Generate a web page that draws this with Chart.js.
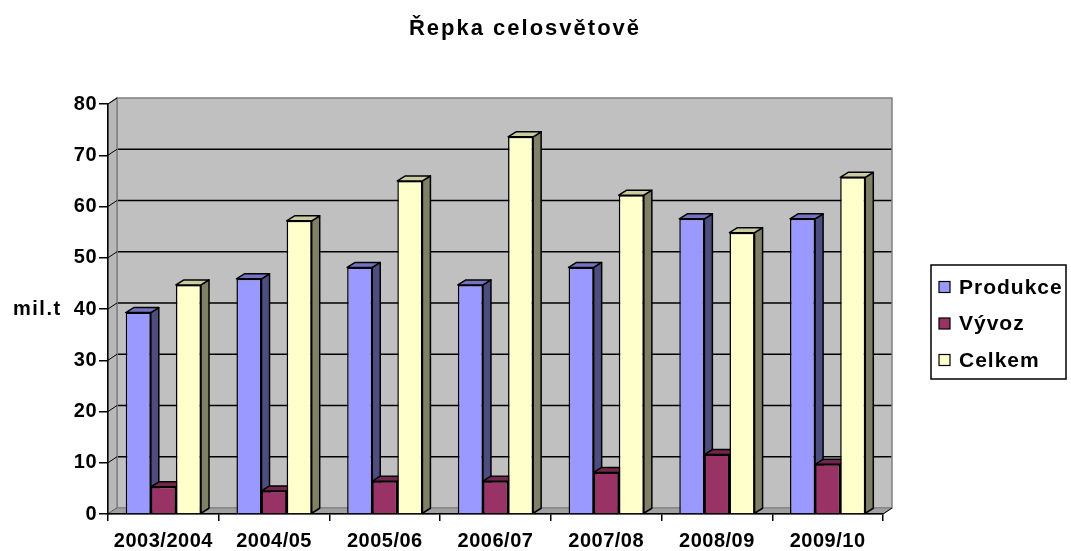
<!DOCTYPE html>
<html lang="cs">
<head>
<meta charset="utf-8">
<title>Řepka celosvětově</title>
<script src="https://cdn.jsdelivr.net/npm/chart.js@4.4.1/dist/chart.umd.min.js"></script>
<style>
  html, body { margin: 0; padding: 0; background: #fff; }
  canvas { display: block; }
</style>
</head>
<body>
<canvas id="graf" width="1071" height="551"></canvas>
<script>
// ================== DATA ==================
const nadpis = "Řepka celosvětově";
const jednotka = "mil.t";
const roky = ["2003/2004", "2004/05", "2005/06", "2006/07", "2007/08", "2008/09", "2009/10"];
const produkce = [39.3, 45.9, 48.1, 44.7, 48.1, 57.6, 57.6];
const vyvoz = [5.3, 4.5, 6.4, 6.4, 8.1, 11.6, 9.7];
const celkem = [44.7, 57.2, 65.0, 73.6, 62.2, 54.9, 65.7];
const osaY = [0, 10, 20, 30, 40, 50, 60, 70, 80];

// barvy: čelo, bok, vršek
const barvy = {
  produkce: ["#9999FF", "#4D4D80", "#7373BF"],
  vyvoz: ["#993366", "#4D1A33", "#73264D"],
  celkem: ["#FFFFCC", "#808066", "#CCCCA3"],
};

const hloubka = { dx: 8, dy: 5 };   // hloubka sloupců
const stena = { dx: 9, dy: 6 };     // hloubka stěn grafu
const pismo = "'Liberation Sans', Arial, sans-serif";

// ================== 3D STĚNY A SLOUPCE ==================
const prostor = {
  id: "prostor",
  beforeLayout(chart) {
    chart.ctx.letterSpacing = "0.5px";
  },
  beforeDraw(chart) {
    const ctx = chart.ctx;
    ctx.letterSpacing = "0.5px";
    const { left, right, top, bottom } = chart.chartArea;
    const y = chart.scales.y;
    ctx.save();
    // zadní stěna
    ctx.fillStyle = "#C0C0C0";
    ctx.fillRect(left + stena.dx, top - stena.dy, right - left, bottom - top);
    // mřížka na zadní stěně
    ctx.strokeStyle = "#000";
    ctx.lineWidth = 1.5;
    osaY.slice(1, -1).forEach((v) => {
      const py = y.getPixelForValue(v) - stena.dy;
      ctx.beginPath();
      ctx.moveTo(left + stena.dx, py);
      ctx.lineTo(right + stena.dx, py);
      ctx.stroke();
    });
    ctx.strokeStyle = "#808080";
    ctx.strokeRect(left + stena.dx, top - stena.dy, right - left, bottom - top);
    // boční stěna
    ctx.fillStyle = "#B8B8B8";
    ctx.beginPath();
    ctx.moveTo(left, top);
    ctx.lineTo(left + stena.dx, top - stena.dy);
    ctx.lineTo(left + stena.dx, bottom - stena.dy);
    ctx.lineTo(left, bottom);
    ctx.closePath();
    ctx.fill();
    ctx.stroke();
    // šikmé čárky z osy na stěnu
    ctx.strokeStyle = "#000";
    ctx.lineWidth = 1;
    osaY.forEach((v) => {
      const py = y.getPixelForValue(v);
      ctx.beginPath();
      ctx.moveTo(left, py);
      ctx.lineTo(left + stena.dx, py - stena.dy);
      ctx.stroke();
    });
    // podlaha
    ctx.fillStyle = "#A0A0A0";
    ctx.strokeStyle = "#808080";
    ctx.beginPath();
    ctx.moveTo(left, bottom);
    ctx.lineTo(left + stena.dx, bottom - stena.dy);
    ctx.lineTo(right + stena.dx, bottom - stena.dy);
    ctx.lineTo(right, bottom);
    ctx.closePath();
    ctx.fill();
    ctx.stroke();
    ctx.strokeStyle = "#000";
    ctx.beginPath();
    ctx.moveTo(right, bottom);
    ctx.lineTo(right + stena.dx, bottom - stena.dy);
    ctx.stroke();
    ctx.restore();
  },
  beforeDatasetsDraw(chart) {
    const ctx = chart.ctx;
    const { dx, dy } = hloubka;
    ctx.save();
    ctx.strokeStyle = "#000";
    ctx.lineWidth = 1.5;
    ctx.lineJoin = "round";
    for (let i = 0; i < roky.length; i++) {
      chart.data.datasets.forEach((ds, di) => {
        const bar = chart.getDatasetMeta(di).data[i];
        const l = bar.x - bar.width / 2;
        const r = bar.x + bar.width / 2;
        const t = bar.y;
        const b = bar.base;
        // bok
        ctx.fillStyle = ds.bok;
        ctx.beginPath();
        ctx.moveTo(r, t);
        ctx.lineTo(r + dx, t - dy);
        ctx.lineTo(r + dx, b - dy);
        ctx.lineTo(r, b);
        ctx.closePath();
        ctx.fill();
        ctx.stroke();
        // vršek
        ctx.fillStyle = ds.vrsek;
        ctx.beginPath();
        ctx.moveTo(l, t);
        ctx.lineTo(l + dx, t - dy);
        ctx.lineTo(r + dx, t - dy);
        ctx.lineTo(r, t);
        ctx.closePath();
        ctx.fill();
        ctx.stroke();
      });
    }
    ctx.restore();
  },
  afterDraw(chart) {
    const ctx = chart.ctx;
    ctx.save();
    ctx.fillStyle = "#000";
    ctx.textBaseline = "middle";
    // nadpis
    ctx.letterSpacing = "2px";
    ctx.font = "bold 22px " + pismo;
    ctx.textAlign = "center";
    ctx.fillText(nadpis, 525, 29);
    // popisek osy Y
    ctx.letterSpacing = "1.5px";
    ctx.font = "bold 20px " + pismo;
    ctx.textAlign = "left";
    ctx.fillText(jednotka, 13, 309);
    // legenda
    const lx = 931, ly = 265, lw = 135, lh = 114;
    ctx.strokeStyle = "#000";
    ctx.lineWidth = 1.5;
    ctx.strokeRect(lx, ly, lw, lh);
    ctx.letterSpacing = "1px";
    ctx.font = "bold 21px " + pismo;
    chart.data.datasets.forEach((ds, i) => {
      const cy = ly + 22 + i * 36.5;
      ctx.fillStyle = ds.backgroundColor;
      ctx.fillRect(939, cy - 5.5, 11, 11);
      ctx.lineWidth = 1.2;
      ctx.strokeRect(939, cy - 5.5, 11, 11);
      ctx.fillStyle = "#000";
      ctx.fillText(ds.label, 959, cy + 1);
    });
    ctx.restore();
  },
};

// ================== GRAF ==================
const sada = (nazev, hodnoty, b) => ({
  label: nazev,
  data: hodnoty,
  backgroundColor: b[0],
  bok: b[1],
  vrsek: b[2],
  borderColor: "#000",
  borderWidth: 1.5,
  categoryPercentage: 0.68,
  barPercentage: 1.0,
});

new Chart(document.getElementById("graf"), {
  type: "bar",
  data: {
    labels: roky,
    datasets: [
      sada("Produkce", produkce, barvy.produkce),
      sada("Vývoz", vyvoz, barvy.vyvoz),
      sada("Celkem", celkem, barvy.celkem),
    ],
  },
  options: {
    responsive: false,
    animation: false,
    layout: { padding: { left: 0, right: 188, top: 104, bottom: 0 } },
    plugins: {
      legend: { display: false },
      tooltip: { enabled: false },
      title: { display: false },
    },
    scales: {
      x: {
        grid: {
          offset: true,
          drawOnChartArea: false,
          drawTicks: true,
          tickLength: 7,
          color: "#000",
          lineWidth: 1.5,
        },
        border: { color: "#000", width: 1.5 },
        ticks: {
          color: "#000",
          padding: 8,
          maxRotation: 0,
          font: { family: pismo, size: 20, weight: "bold" },
        },
        afterFit(scale) { scale.height = 37; },
      },
      y: {
        min: 0,
        max: 80,
        afterBuildTicks(scale) { scale.ticks = osaY.map((v) => ({ value: v })); },
        grid: {
          drawOnChartArea: false,
          drawTicks: true,
          tickLength: 9,
          color: "#000",
          lineWidth: 1.5,
        },
        border: { color: "#000", width: 1.5 },
        ticks: {
          color: "#000",
          padding: 2,
          font: { family: pismo, size: 20, weight: "bold" },
        },
        afterFit(scale) { scale.width = 108; },
      },
    },
  },
  plugins: [prostor],
});
</script>
</body>
</html>
